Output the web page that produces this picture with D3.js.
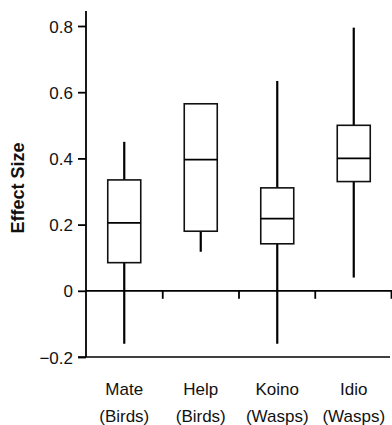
<!DOCTYPE html>
<html>
<head>
<meta charset="utf-8">
<script src="https://cdn.jsdelivr.net/npm/d3@7"></script>
<style>
  body { margin: 0; background: #fff; }
  svg { display: block; font-family: "Liberation Sans", Arial, sans-serif; }
</style>
</head>
<body>
<svg id="chart" width="392" height="425"></svg>
<script>
// data
const groups = ["Mate", "Help", "Koino", "Idio"];
const taxa = ["(Birds)", "(Birds)", "(Wasps)", "(Wasps)"];
const whiskerLow = [-0.16, 0.118, -0.16, 0.04];
const boxLow = [0.085, 0.18, 0.142, 0.33];
const medians = [0.205, 0.396, 0.218, 0.40];
const boxHigh = [0.335, 0.565, 0.311, 0.50];
const whiskerHigh = [0.45, 0.565, 0.634, 0.795];
const yTicks = [-0.2, 0, 0.2, 0.4, 0.6, 0.8];

const svg = d3.select("#chart");

const x = d3.scaleBand().domain(groups).range([86, 392]).padding(0);
const y = d3.scaleLinear().domain([-0.2, 0.8]).range([357, 26]);
const boxW = 33;

const rows = groups.map((g, i) => ({
  g, lo: whiskerLow[i], q1: boxLow[i], med: medians[i], q3: boxHigh[i], hi: whiskerHigh[i]
}));

// y axis
const yAxis = svg.append("g")
  .attr("transform", "translate(86,0)")
  .call(d3.axisLeft(y).tickValues(yTicks).tickSize(8)
    .tickFormat(d => d === 0 ? "0" : d3.format(".1f")(d).replace("-", "\u2212")));
yAxis.select(".domain").remove();
yAxis.selectAll(".tick line").attr("stroke", "#000").attr("stroke-width", 1.8);
yAxis.selectAll(".tick text")
  .attr("x", -13)
  .attr("dy", "0.36em")
  .attr("font-size", 17)
  .attr("font-family", "Liberation Sans, Arial, sans-serif")
  .attr("fill", "#111");

svg.append("line")
  .attr("x1", 86).attr("x2", 86)
  .attr("y1", y(0.845)).attr("y2", y(-0.2))
  .attr("stroke", "#000").attr("stroke-width", 1.8);

// bottom line at -0.2
svg.append("line")
  .attr("x1", 78).attr("x2", 390)
  .attr("y1", y(-0.2)).attr("y2", y(-0.2))
  .attr("stroke", "#000").attr("stroke-width", 1.5);

// zero axis with separators between groups
const edge = d3.scaleLinear().domain([0, 4]).range([86, 391]);
const zAxis = svg.append("g")
  .attr("transform", `translate(0,${y(0)})`)
  .call(d3.axisBottom(edge).tickValues([1, 2, 3, 4]).tickSize(8).tickSizeOuter(0).tickFormat(""));
zAxis.select(".domain").attr("d", `M86,0H392`).attr("stroke", "#000").attr("stroke-width", 1.8);
zAxis.selectAll(".tick line").attr("stroke", "#000").attr("stroke-width", 1.8);

// boxes
const boxes = svg.append("g").selectAll("g").data(rows).enter().append("g")
  .attr("transform", d => `translate(${x(d.g) + x.bandwidth() / 2},0)`);

boxes.append("line")
  .attr("y1", d => y(d.hi)).attr("y2", d => y(d.q3))
  .attr("stroke", "#000").attr("stroke-width", 2.2);
boxes.append("line")
  .attr("y1", d => y(d.q1)).attr("y2", d => y(d.lo))
  .attr("stroke", "#000").attr("stroke-width", 2.2);
boxes.append("rect")
  .attr("x", -boxW / 2).attr("width", boxW)
  .attr("y", d => y(d.q3)).attr("height", d => y(d.q1) - y(d.q3))
  .attr("fill", "#fff").attr("stroke", "#111").attr("stroke-width", 1.6);
boxes.append("line")
  .attr("x1", -boxW / 2).attr("x2", boxW / 2)
  .attr("y1", d => y(d.med)).attr("y2", d => y(d.med))
  .attr("stroke", "#000").attr("stroke-width", 1.8);

// category labels
const labels = svg.append("g").selectAll("text").data(groups).enter().append("text")
  .attr("x", d => x(d) + x.bandwidth() / 2)
  .attr("text-anchor", "middle")
  .attr("font-size", 17)
  .attr("fill", "#111");
labels.append("tspan").attr("x", d => x(d) + x.bandwidth() / 2).attr("y", 395).text(d => d);
labels.append("tspan").attr("x", d => x(d) + x.bandwidth() / 2).attr("y", 422).text((d, i) => taxa[i]);

// y label
svg.append("text")
  .attr("transform", "translate(24,188) rotate(-90)")
  .attr("text-anchor", "middle")
  .attr("font-size", 18)
  .attr("font-weight", "bold")
  .attr("fill", "#111")
  .text("Effect Size");
</script>
</body>
</html>
